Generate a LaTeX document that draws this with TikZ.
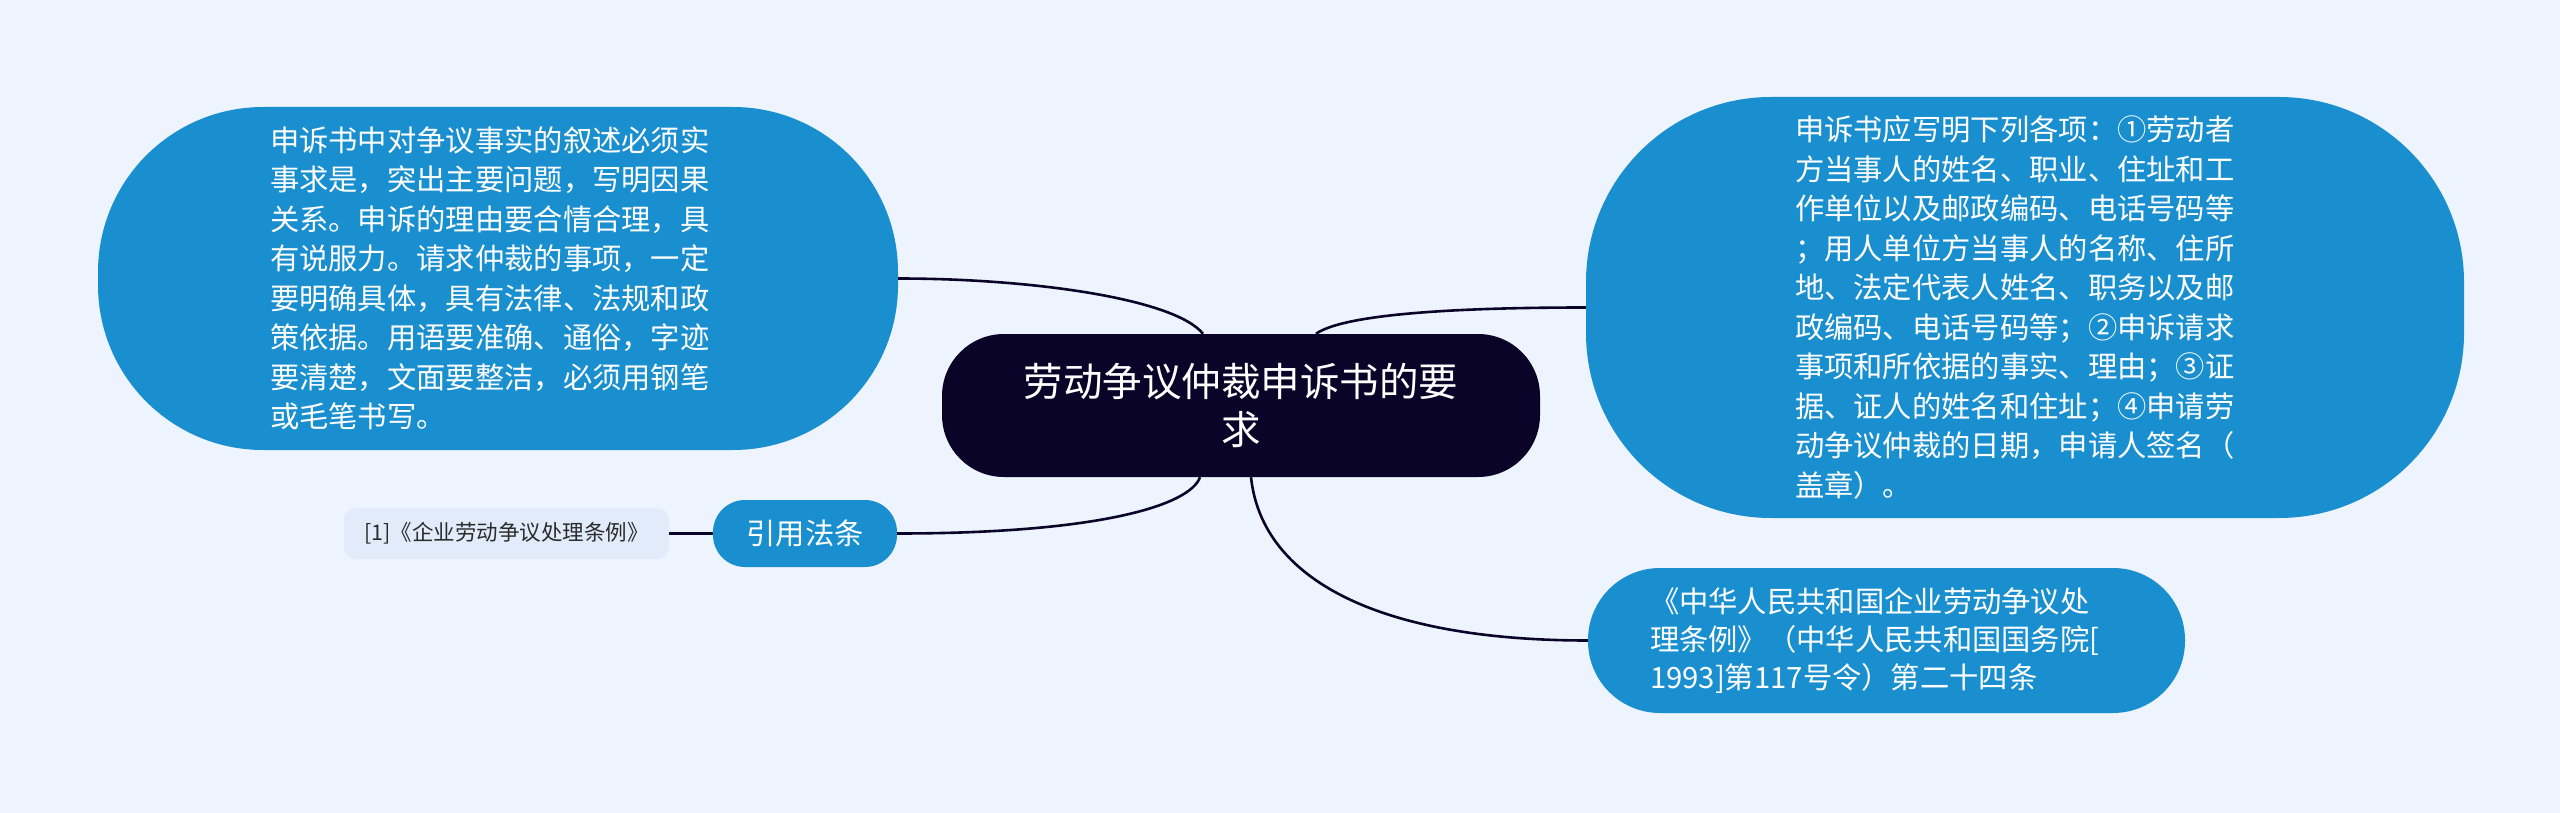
\documentclass[tikz,border=0pt]{standalone}
\usepackage{fontspec}
\setmainfont{Noto Sans CJK SC}
\usetikzlibrary{positioning, calc}
\definecolor{bgblue}{HTML}{EEF4FD}
\definecolor{nodeblue}{HTML}{1A8FD0}
\definecolor{rootnavy}{HTML}{0A0428}
\definecolor{leafblue}{HTML}{E1EBFA}
\definecolor{leaftext}{HTML}{2B2B2B}
\newcommand{\bodyfont}{\fontsize{29.3}{39.5}\selectfont}

\begin{document}
\begin{tikzpicture}[x=1pt, y=-1pt,
    topic/.style={fill=nodeblue, text=white, inner sep=0pt, align=left, font=\bodyfont},
    root/.style={fill=rootnavy, text=white, inner sep=0pt, align=center,
      font=\fontsize{39.5}{48}\selectfont},
    leaf/.style={fill=leafblue, text=leaftext, inner sep=0pt, align=center,
      font=\fontsize{21.5}{26}\selectfont},
    link/.style={draw=rootnavy, line width=2.6pt}]

    \fill[bgblue] (0,0) rectangle (2560,813);
    \useasboundingbox (0,0) rectangle (2560,813);

    \node[root, minimum width=598, minimum height=143, rounded corners=62]
      (main) at (1241,405.5) {劳动争议仲裁申诉书的要\\求};

    \node[topic, minimum width=800, minimum height=343, rounded corners=165, text width=456]
      (facts) at (498,278.5) {申诉书中对争议事实的叙述必须实\\
      事求是，突出主要问题，写明因果\\
      关系。申诉的理由要合情合理，具\\
      有说服力。请求仲裁的事项，一定\\
      要明确具体，具有法律、法规和政\\
      策依据。用语要准确、通俗，字迹\\
      要清楚，文面要整洁，必须用钢笔\\
      或毛笔书写。};

    \node[topic, minimum width=878, minimum height=421, rounded corners=185, text width=460]
      (items) at (2025,307.5) {申诉书应写明下列各项：①劳动者\\
      方当事人的姓名、职业、住址和工\\
      作单位以及邮政编码、电话号码等\\
      ；用人单位方当事人的名称、住所\\
      地、法定代表人姓名、职务以及邮\\
      政编码、电话号码等；②申诉请求\\
      事项和所依据的事实、理由；③证\\
      据、证人的姓名和住址；④申请劳\\
      动争议仲裁的日期，申请人签名（\\
      盖章）。};

    \node[topic, minimum width=597, minimum height=145, rounded corners=72, text width=473,
      font=\fontsize{29.3}{38}\selectfont]
      (article) at (1886.5,640.5) {《中华人民共和国企业劳动争议处\\
      理条例》（中华人民共和国国务院[\\
      1993]第117号令）第二十四条};

    \node[topic, align=center, minimum width=184, minimum height=67, rounded corners=32]
      (law) at (805,533.5) {引用法条};

    \node[leaf, minimum width=325, minimum height=51, rounded corners=12]
      (ref) at (506.5,533.5) {[1]《企业劳动争议处理条例》};

    % connectors
    \draw[link] ([xshift=-38]main.north) .. controls +(-28,-35) and +(134,0) .. (facts.east);
    \draw[link] ([xshift=75]main.north) .. controls +(24,-17) and +(-156,0) .. (items.west);
    \draw[link] ([xshift=-41]main.south) .. controls +(-10,28) and +(203,0) .. (law.east);
    \draw[link] ([xshift=10]main.south) .. controls +(11,103) and +(-208,0) .. (article.west);
    \draw[link] (law.west) -- (ref.east);

\end{tikzpicture}
\end{document}
